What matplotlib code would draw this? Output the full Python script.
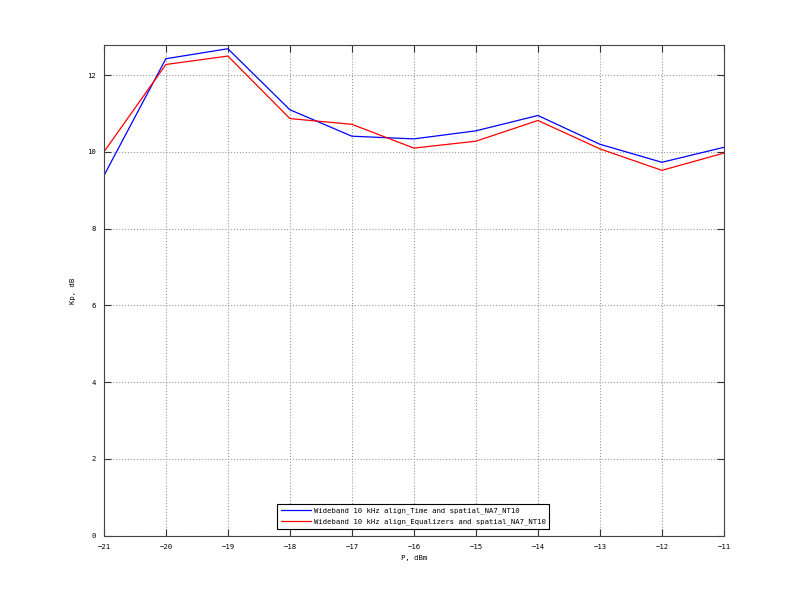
import numpy as np
import matplotlib.pyplot as plt

# data
p_dbm = [-21, -20, -19, -18, -17, -16, -15, -14, -13, -12, -11]
kp_time = [9.38, 12.43, 12.69, 11.10, 10.41, 10.34, 10.55, 10.95, 10.20, 9.73, 10.12]
kp_eq = [10.00, 12.28, 12.50, 10.87, 10.72, 10.10, 10.28, 10.82, 10.08, 9.52, 9.97]

navn = ['Wideband 10 kHz align_Time and spatial_NA7_NT10',
        'Wideband 10 kHz align_Equalizers and spatial_NA7_NT10']

plt.rcParams['font.family'] = 'DejaVu Sans Mono'
fs = 5.2

fig = plt.figure(figsize=(7.99, 6), dpi=100)
ax = fig.add_axes([0.13, 0.1075, 0.776, 0.817])

ax.plot(p_dbm, kp_time, color='#0000ff', lw=0.9, label=navn[0])
ax.plot(p_dbm, kp_eq, color='#ff0000', lw=0.9, label=navn[1])

ax.set_xlim(-21, -11)
ax.set_ylim(0, 12.78)
ax.set_xticks(np.arange(-21, -10, 1))
ax.set_yticks(np.arange(0, 13, 2))

ax.grid(True, linestyle=':', color='#999999', lw=0.8)
ax.tick_params(direction='in', top=True, right=True, labelsize=fs, length=5,
               colors='#333333', pad=6)
ax.tick_params(labelcolor='black')
for s in ax.spines.values():
    s.set_color('#444444')

ax.set_xlabel('P, dBm', fontsize=fs, labelpad=4)
ax.set_ylabel('Kp, dB', fontsize=fs, labelpad=8)

leg = ax.legend(loc='lower center', bbox_to_anchor=(0.499, 0.0), fontsize=fs,
                fancybox=False, framealpha=1, borderpad=0.5, handlelength=4.2,
                handletextpad=0.3, labelspacing=0.6, borderaxespad=0.95)
leg.get_frame().set_edgecolor('black')
leg.get_frame().set_linewidth(0.8)

fig.savefig('out.png', dpi=100)
